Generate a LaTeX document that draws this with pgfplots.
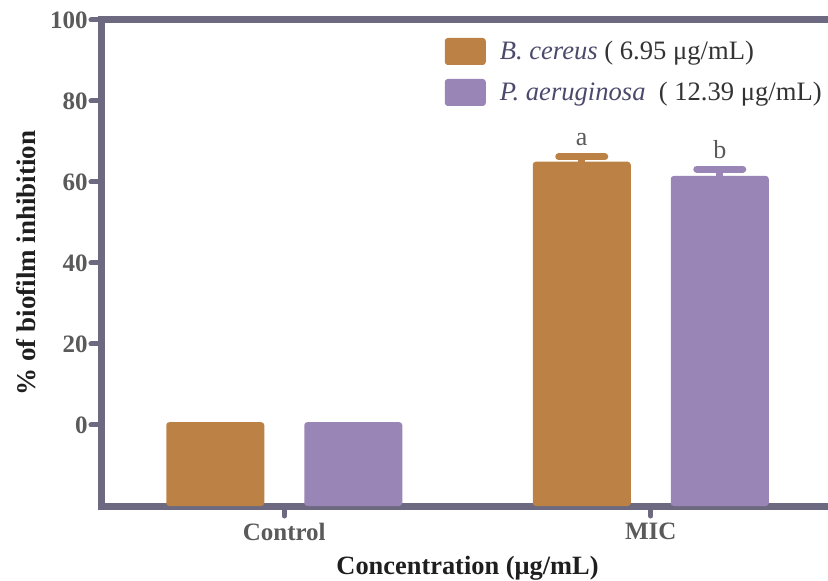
\documentclass[border=0pt]{standalone}
\usepackage{pgfplots}
\pgfplotsset{compat=1.18}
\usepackage{fontspec}
\setmainfont{Liberation Serif}
\definecolor{barB}{HTML}{BC8245}
\definecolor{barP}{HTML}{9985B6}
\definecolor{axc}{HTML}{6D6980}
\definecolor{tickc}{HTML}{5A5A5A}
\definecolor{legc}{HTML}{4C4A6C}
\definecolor{legt}{HTML}{333333}
\begin{document}
\begin{tikzpicture}
\useasboundingbox (0,0) rectangle (414pt,-290.5pt);
\clip (0,0) rectangle (414pt,-290.5pt);
\begin{axis}[
 anchor=north west, at={(50.5pt,-10pt)},
 scale only axis, width=366.5pt, height=243pt,
 xmin=-0.5, xmax=1.5, ymin=-20, ymax=100,
 y coord trafo/.code={\pgfmathparse{#1+20}},
 y coord inv trafo/.code={\pgfmathparse{#1-20}},
 ybar, bar width=49pt,
 xtick={0,1}, xticklabels={Control,MIC},
 ytick={0,20,40,60,80,100}, yticklabels={0,20,40,60,80,100},
 tick pos=left, tick align=outside, major tick length=5pt,
 tick style={axc, line width=2.5pt, line cap=round},
 axis line style={axc, line width=3.5pt},
 tick label style={font=\fontsize{12.5}{14}\selectfont\bfseries, text=tickc},
 yticklabel style={inner sep=1.5pt},
 xlabel={Concentration (μg/mL)},
 ylabel={\% of biofilm inhibition},
 xlabel style={at={(axis description cs:0.5,-0.1276)}, anchor=center, font=\fontsize{13.2}{15}\selectfont\bfseries, text=black!88},
 ylabel style={at={(axis description cs:-0.1023,0.5)}, anchor=center, font=\fontsize{13.5}{15}\selectfont\bfseries, text=black!88},
 legend style={draw=none, fill=none, at={(rel axis cs:0.469,0.963)}, anchor=north west, inner sep=0pt, outer sep=0pt, row sep=7pt, column sep=7pt, font=\fontsize{13.3}{15}\selectfont, nodes={inner sep=0pt}},
 legend cell align=left,
 legend image code/.code={\fill[#1] (0pt,-6.75pt) rectangle (20.5pt,6.75pt);},
]
\addplot[forget plot, fill=barB, draw=none, rounded corners=1.5pt, bar shift=-34.5pt] coordinates {(0,0.7)};
\addplot[forget plot, fill=barP, draw=none, rounded corners=1.5pt, bar shift=34.5pt] coordinates {(0,0.7)};
\addplot[fill=barB, draw=none, rounded corners=1.5pt, bar shift=-34.5pt,
  error bars/.cd, y dir=plus, y explicit,
  error bar style={barB, line width=3.5pt},
  error mark options={rotate=90, barB, line width=3.5pt, mark size=11.5pt, line cap=round}]
  coordinates {(1,65.0) +- (0,1.2)};
\addplot[fill=barP, draw=none, rounded corners=1.5pt, bar shift=34.5pt,
  error bars/.cd, y dir=plus, y explicit,
  error bar style={barP, line width=3.5pt},
  error mark options={rotate=90, barP, line width=3.5pt, mark size=11.5pt, line cap=round}]
  coordinates {(1,61.5) +- (0,1.7)};
\legend{{\color{legc}\itshape B. cereus} {\color{legt}( 6.95 μg/mL)}, {\color{legc}\itshape P. aeruginosa}\ \ {\color{legt}( 12.39 μg/mL)}}
\node[font=\fontsize{13}{15}\selectfont, text=tickc, xshift=-34.5pt] at (axis cs:1,70.4) {a};
\node[font=\fontsize{13}{15}\selectfont, text=tickc, xshift=34.5pt] at (axis cs:1,67.9) {b};
\end{axis}
\end{tikzpicture}
\end{document}
